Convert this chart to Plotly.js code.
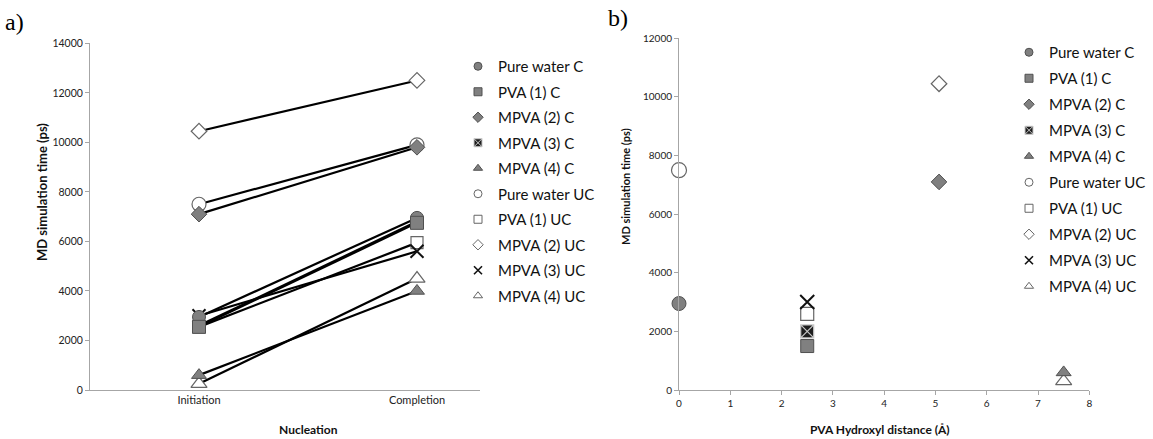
<!DOCTYPE html>
<html>
<head>
<meta charset="utf-8">
<script src="https://cdn.plot.ly/plotly-3.0.1.min.js"></script>
<style>html,body{margin:0;padding:0;background:#fff;}#chart{width:1153px;height:439px;}</style>
</head>
<body>
<div id="chart"></div>
<script>
// ---- data ----
var seriesNames = ['Pure water C','PVA (1) C','MPVA (2) C','MPVA (3) C','MPVA (4) C',
                   'Pure water UC','PVA (1) UC','MPVA (2) UC','MPVA (3) UC','MPVA (4) UC'];
var stages = ['Initiation','Completion'];
var initiationTime = [2950, 2550, 7100, 2600, 600, 7500, 2550, 10450, 3000, 250];
var completionTime = [6950, 6750, 9800, 6800, 4000, 9900, 5950, 12500, 5600, 4500];
var hydroxylDistance = [0, 2.5, 5.07, 2.5, 7.5, 0, 2.5, 5.07, 2.5, 7.5];
var distanceTime = [2950, 1500, 7100, 2000, 600, 7500, 2600, 10450, 3000, 300];
var stageTicks = [0, 1];
var distanceTicks = [0,1,2,3,4,5,6,7,8];

// ---- styles ----
var W = 1153, H = 439;
function px(x){ return x / W; }
function py(y){ return 1 - y / H; }
var GRAY = '#808080', EDGE = '#505050', OPEN = '#666666';
var styles = [
  {symbol:'circle', color:GRAY, line:EDGE, lw:1},
  {symbol:'square', color:GRAY, line:EDGE, lw:1},
  {symbol:'diamond', color:GRAY, line:EDGE, lw:1},
  {symbol:'square-x', color:'#1e1e1e', line:'#c8c8c8', lw:1.2},
  {symbol:'triangle-up', color:GRAY, line:EDGE, lw:1},
  {symbol:'circle', color:'#ffffff', line:OPEN, lw:1.2},
  {symbol:'square', color:'#ffffff', line:OPEN, lw:1.2},
  {symbol:'diamond', color:'#ffffff', line:OPEN, lw:1.2},
  {symbol:'x-thin-open', color:'#111111', line:'#111111', lw:2},
  {symbol:'triangle-up', color:'#ffffff', line:OPEN, lw:1.2}
];
var sizesA = [13, 13, 12, 11, 13, 14, 12, 12, 13, 14];
var sizesB = [14, 13, 12, 13, 13, 15, 13, 12, 14, 14];
var FONT = 'Lato, "Liberation Sans", sans-serif';

var traces = [];
// draw UC first, then C on top (square of PVA (1) C last)
var drawOrder = [5,6,7,8,9,3,4,2,0,1];
drawOrder.forEach(function(i){
  var s = styles[i];
  traces.push({
    type:'scatter', mode:'lines+markers', name:seriesNames[i],
    x: stageTicks, y:[initiationTime[i], completionTime[i]],
    xaxis:'x', yaxis:'y', showlegend:false, cliponaxis:false,
    line:{color:'#000', width:2.2},
    marker:{symbol:s.symbol, size:sizesA[i], color:s.color, line:{color:s.line, width:s.lw}},
    hoverinfo:'name+y'
  });
});
drawOrder.forEach(function(i){
  var s = styles[i];
  traces.push({
    type:'scatter', mode:'markers', name:seriesNames[i],
    x:[hydroxylDistance[i]], y:[distanceTime[i]],
    xaxis:'x2', yaxis:'y2', showlegend:false, cliponaxis:false,
    marker:{symbol:s.symbol, size:sizesB[i], color:s.color, line:{color:s.line, width:s.lw}},
    hoverinfo:'name+x+y'
  });
});
// legend entries
['legend','legend2'].forEach(function(lg, k){
  seriesNames.forEach(function(n, i){
    var s = styles[i];
    traces.push({
      type:'scatter', mode:'markers', name:n, x:[null], y:[null],
      xaxis: k===0 ? 'x' : 'x2', yaxis: k===0 ? 'y' : 'y2',
      legend: lg, legendgroup: lg + i, showlegend:true,
      marker:{symbol:s.symbol, size:8, color:s.color,
              line:{color:s.line, width: s.symbol==='x-thin-open' ? 1.6 : 1}}
    });
  });
});

var axisCommon = {
  showgrid:false, zeroline:false, showline:true, linecolor:'#a6a6a6', linewidth:1,
  tickfont:{family:FONT, size:10, color:'#222'}, tickcolor:'#a6a6a6', ticklen:4, tickformat:'d'
};

var layout = {
  width:W, height:H, margin:{l:0, r:0, t:0, b:0},
  paper_bgcolor:'#fff', plot_bgcolor:'rgba(0,0,0,0)',
  font:{family:FONT, color:'#222'},
  xaxis: Object.assign({}, axisCommon, {
    domain:[px(90), px(480)], range:[-0.5, 1.289], tickmode:'array',
    tickvals:stageTicks, ticktext:stages, ticks:'', tickfont:{family:FONT, size:11, color:'#222'},
    anchor:'y'
  }),
  yaxis: Object.assign({}, axisCommon, {
    domain:[py(390), py(43.3)], range:[0, 14000], dtick:2000, ticks:'outside',
    anchor:'x', tickfont:{family:FONT, size:10.5, color:'#222'}
  }),
  xaxis2: Object.assign({}, axisCommon, {
    domain:[px(679), px(1089.3)], range:[0, 8], tickmode:'array', tickvals:distanceTicks,
    ticks:'outside', anchor:'y2'
  }),
  yaxis2: Object.assign({}, axisCommon, {
    domain:[py(390), py(38.3)], range:[0, 12000], dtick:2000, ticks:'outside', anchor:'x2'
  }),
  legend: {x:px(458), y:py(50), xanchor:'left', yanchor:'top', bgcolor:'rgba(255,255,255,0)',
    font:{family:FONT, size:15, color:'#111'}, traceorder:'grouped', tracegroupgap:3},
  legend2: {x:px(1009), y:py(36), xanchor:'left', yanchor:'top', bgcolor:'rgba(255,255,255,0)',
    font:{family:FONT, size:15, color:'#111'}, traceorder:'grouped', tracegroupgap:3.5},
  annotations: [
    {text:'a)', x:px(3), y:py(22), xref:'paper', yref:'paper', xanchor:'left', yanchor:'middle',
     showarrow:false, font:{family:'"Liberation Serif", serif', size:24, color:'#000'}},
    {text:'b)', x:px(606), y:py(18), xref:'paper', yref:'paper', xanchor:'left', yanchor:'middle',
     showarrow:false, font:{family:'"Liberation Serif", serif', size:24, color:'#000'}},
    {text:'<b>MD simulation time (ps)</b>', x:px(42), y:py(192), xref:'paper', yref:'paper',
     xanchor:'center', yanchor:'middle',
     textangle:-90, showarrow:false, font:{family:FONT, size:13, color:'#111'}},
    {text:'<b>MD simulation time (ps)</b>', x:px(625), y:py(187), xref:'paper', yref:'paper',
     xanchor:'center', yanchor:'middle',
     textangle:-90, showarrow:false, font:{family:FONT, size:11, color:'#111'}},
    {text:'<b>Nucleation</b>', x:px(308), y:py(429), xref:'paper', yref:'paper',
     xanchor:'center', yanchor:'middle',
     showarrow:false, font:{family:FONT, size:12, color:'#111'}},
    {text:'<b>PVA Hydroxyl distance (Å)</b>', x:px(880), y:py(429), xref:'paper', yref:'paper',
     xanchor:'center', yanchor:'middle',
     showarrow:false, font:{family:FONT, size:12, color:'#111'}}
  ]
};

Plotly.newPlot('chart', traces, layout, {displayModeBar:false, staticPlot:true});
</script>
</body>
</html>
